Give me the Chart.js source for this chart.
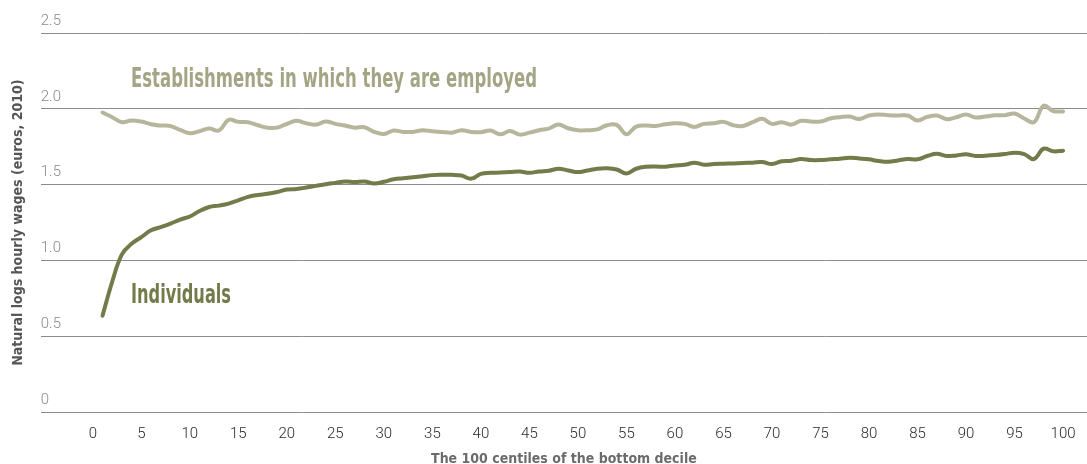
<!DOCTYPE html>
<html>
<head>
<meta charset="utf-8">
<script src="https://cdn.jsdelivr.net/npm/chart.js@4/dist/chart.umd.min.js"></script>
<style>
  html, body { margin: 0; padding: 0; background: #ffffff; }
  #wrap { width: 1087px; height: 464px; position: relative; }
</style>
</head>
<body>
<div id="wrap"><canvas id="c"></canvas></div>
<script>
const centiles = Array.from({length: 100}, (_, i) => i + 1);
const individuals = [
  0.636, 0.86, 1.04, 1.11, 1.154, 1.199, 1.22, 1.243, 1.27, 1.29,
  1.327, 1.353, 1.362, 1.375, 1.397, 1.42, 1.432, 1.44, 1.452, 1.468,
  1.472, 1.481, 1.492, 1.503, 1.512, 1.521, 1.517, 1.521, 1.508, 1.519,
  1.536, 1.543, 1.549, 1.556, 1.563, 1.565, 1.565, 1.56, 1.54, 1.571,
  1.578, 1.58, 1.583, 1.587, 1.578, 1.587, 1.592, 1.605, 1.594, 1.583,
  1.594, 1.605, 1.608, 1.6, 1.574, 1.605, 1.618, 1.62, 1.618, 1.627,
  1.631, 1.645, 1.631, 1.636, 1.638, 1.64, 1.643, 1.645, 1.649, 1.636,
  1.654, 1.658, 1.669, 1.662, 1.662, 1.667, 1.671, 1.678, 1.673, 1.667,
  1.656, 1.651, 1.66, 1.669, 1.667, 1.689, 1.704, 1.689, 1.693, 1.7,
  1.689, 1.691, 1.695, 1.702, 1.711, 1.702, 1.669, 1.737, 1.72, 1.724
];
const establishments = [
  1.976, 1.945, 1.912, 1.923, 1.916, 1.898, 1.89, 1.887, 1.861, 1.839,
  1.852, 1.87, 1.857, 1.927, 1.914, 1.912, 1.892, 1.876, 1.876, 1.901,
  1.921, 1.905, 1.896, 1.916, 1.901, 1.89, 1.876, 1.879, 1.848, 1.834,
  1.857, 1.848, 1.848, 1.859, 1.852, 1.848, 1.843, 1.859, 1.848, 1.846,
  1.857, 1.832, 1.854, 1.83, 1.843, 1.859, 1.87, 1.896, 1.872, 1.859,
  1.859, 1.865, 1.892, 1.894, 1.832, 1.883, 1.89, 1.887, 1.898, 1.905,
  1.901, 1.881, 1.901, 1.905, 1.914, 1.892, 1.887, 1.912, 1.934, 1.901,
  1.912, 1.896, 1.921, 1.916, 1.916, 1.936, 1.945, 1.949, 1.933, 1.956,
  1.963, 1.958, 1.956, 1.956, 1.923, 1.947, 1.956, 1.932, 1.945, 1.963,
  1.943, 1.949, 1.958, 1.958, 1.969, 1.936, 1.912, 2.02, 1.985, 1.983
];
const xTickValues = [0,5,10,15,20,25,30,35,40,45,50,55,60,65,70,75,80,85,90,95,100];
const yTickValues = [0, 0.5, 1.0, 1.5, 2.0, 2.5];
const yTickLabels = ['0', '0.5', '1.0', '1.5', '2.0', '2.5'];
const seriesNames = ['Establishments in which they are employed', 'Individuals'];
const xTitle = 'The 100 centiles of the bottom decile';
const yTitle = 'Natural logs hourly wages (euros, 2010)';

const COL_EST = '#b6b69c';
const COL_EST_TXT = '#a3a585';
const COL_IND = '#727b49';
const NARROW = "'Liberation Sans Narrow', 'DejaVu Sans Condensed', 'Roboto', sans-serif";

const labelPlugin = {
  id: 'seriesLabels',
  afterDatasetsDraw(chart) {
    const ctx = chart.ctx;
    const items = [
      {text: seriesNames[0], x: 131, y: 87, w: 406, color: COL_EST_TXT},
      {text: seriesNames[1], x: 131, y: 303, w: 100, color: COL_IND}
    ];
    items.forEach(it => {
      ctx.save();
      ctx.font = "bold 26px " + NARROW;
      ctx.fillStyle = it.color;
      ctx.textBaseline = 'alphabetic';
      ctx.textAlign = 'left';
      const m = ctx.measureText(it.text).width;
      ctx.translate(it.x, it.y);
      ctx.scale(it.w / m, 1);
      ctx.fillText(it.text, 0, 0);
      ctx.restore();
    });
  }
};

new Chart(document.getElementById('c'), {
  type: 'line',
  data: {
    datasets: [
      {
        label: seriesNames[0],
        data: centiles.map((c, i) => ({x: c, y: establishments[i]})),
        borderColor: COL_EST,
        borderWidth: 4,
        pointRadius: 0,
        tension: 0.4,
        borderCapStyle: 'round',
        borderJoinStyle: 'round'
      },
      {
        label: seriesNames[1],
        data: centiles.map((c, i) => ({x: c, y: individuals[i]})),
        borderColor: COL_IND,
        borderWidth: 4,
        pointRadius: 0,
        tension: 0.4,
        borderCapStyle: 'round',
        borderJoinStyle: 'round'
      }
    ]
  },
  options: {
    responsive: true,
    maintainAspectRatio: false,
    animation: false,
    layout: { padding: { left: 0, right: 0, top: 33, bottom: 0 } },
    plugins: { legend: { display: false }, tooltip: { enabled: false } },
    scales: {
      x: {
        type: 'linear',
        min: -5.36,
        max: 102.47,
        afterBuildTicks: (scale) => { scale.ticks = xTickValues.map(v => ({value: v})); },
        grid: { display: false },
        border: { display: false },
        ticks: {
          autoSkip: false, maxRotation: 0, minRotation: 0,
          padding: 5,
          color: '#2a2a2a',
          font: { family: 'Roboto', size: 15, weight: '300' },
          callback: (v) => String(v)
        },
        title: {
          display: true,
          text: xTitle,
          color: '#6b6b6b',
          font: { family: NARROW, size: 14, weight: 'bold' },
          padding: { top: 3, bottom: -4 }
        }
      },
      y: {
        min: 0,
        max: 2.5,
        afterBuildTicks: (scale) => { scale.ticks = yTickValues.map(v => ({value: v})); },
        grid: { color: '#8c8c8c', lineWidth: 1, drawTicks: false },
        border: { display: false },
        ticks: {
          mirror: true,
          padding: 0,
          labelOffset: -12,
          color: '#8a8a8a',
          font: { family: 'Roboto', size: 15, weight: '300' },
          callback: (v) => yTickLabels[yTickValues.indexOf(v)]
        },
        title: {
          display: true,
          text: yTitle,
          color: '#555555',
          font: { family: NARROW, size: 14, weight: 'bold' },
          padding: { top: 10, bottom: 14 }
        }
      }
    }
  },
  plugins: [labelPlugin]
});
</script>
</body>
</html>
